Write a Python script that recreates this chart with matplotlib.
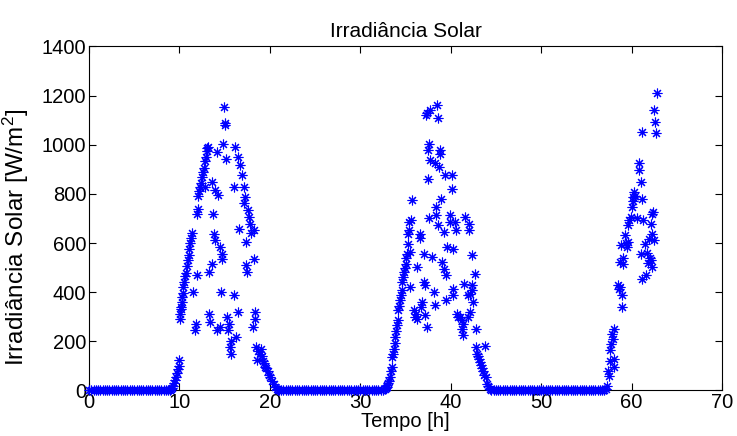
import matplotlib

matplotlib.use("Agg")
import matplotlib.pyplot as plt

plt.rcParams["font.family"] = ["Liberation Sans", "DejaVu Sans"]
plt.rcParams["mathtext.fontset"] = "custom"
plt.rcParams["mathtext.rm"] = "Liberation Sans"
plt.rcParams["mathtext.it"] = "Liberation Sans:italic"

# (hora, irradiancia W/m2)
night1 = [
    (0.0, 0), (0.25, 0), (0.5, 0), (0.75, 0), (1.0, 0), (1.25, 0), (1.5, 0), (1.75, 0),
    (2.0, 0), (2.25, 0), (2.5, 0), (2.75, 0), (3.0, 0), (3.25, 0), (3.5, 0), (3.75, 0),
    (4.0, 0), (4.25, 0), (4.5, 0), (4.75, 0), (5.0, 0), (5.25, 0), (5.5, 0), (5.75, 0),
    (6.0, 0), (6.25, 0), (6.5, 0), (6.75, 0), (7.0, 0), (7.25, 0), (7.5, 0), (7.75, 0),
    (8.0, 0), (8.25, 0), (8.5, 0), (8.75, 0), (9.0, 0),
]
day1 = [
    (9.1, 5), (9.2, 12), (9.3, 20), (9.4, 30), (9.5, 42), (9.6, 55), (9.7, 70), (9.8, 88),
    (9.9, 100), (10.0, 125), (10.05, 290), (10.1, 310), (10.15, 340), (10.2, 330),
    (10.25, 360), (10.3, 380), (10.35, 395), (10.4, 420), (10.5, 440), (10.6, 465),
    (10.7, 480), (10.8, 505), (10.9, 530), (11.0, 550), (11.1, 575), (11.2, 600),
    (11.3, 620), (11.4, 640), (11.5, 400), (11.7, 245), (11.8, 272), (11.9, 469),
    (11.95, 720), (12.0, 740), (12.1, 790), (12.2, 810), (12.3, 830), (12.4, 845),
    (12.5, 870), (12.6, 890), (12.7, 905), (12.8, 935), (12.85, 830), (12.9, 950),
    (13.0, 975), (13.1, 985), (13.2, 990), (13.25, 482), (13.3, 313), (13.35, 280),
    (13.6, 516), (13.65, 849), (13.75, 720), (13.8, 638), (13.9, 611), (13.95, 815),
    (14.1, 971), (14.15, 245), (14.3, 795), (14.45, 260), (14.5, 584), (14.55, 400),
    (14.7, 557), (14.75, 537), (14.85, 1005), (14.9, 1152), (15.0, 1087), (15.05, 1080),
    (15.2, 944), (15.25, 299), (15.4, 245), (15.5, 270), (15.6, 176), (15.7, 150),
    (15.75, 200), (16.0, 829), (16.05, 387), (16.15, 991), (16.3, 217), (16.45, 319),
    (16.5, 951), (16.55, 659), (16.7, 917), (16.9, 876), (17.1, 829), (17.15, 761),
    (17.3, 788), (17.35, 509), (17.4, 604), (17.45, 482), (17.6, 733), (17.7, 707),
    (17.8, 679), (17.9, 640), (18.1, 260), (18.2, 652), (18.25, 537), (18.3, 318),
    (18.35, 290), (18.5, 176), (18.6, 126), (18.7, 160), (18.9, 150), (19.0, 170),
    (19.1, 140), (19.2, 120), (19.3, 110), (19.5, 95), (19.6, 90), (19.8, 80),
    (19.9, 65), (20.0, 54), (20.2, 40), (20.4, 27), (20.6, 15), (20.8, 8), (20.9, 3),
]
night2 = [
    (21.0, 0), (21.25, 0), (21.5, 0), (21.75, 0), (22.0, 0), (22.25, 0), (22.5, 0), (22.75, 0),
    (23.0, 0), (23.25, 0), (23.5, 0), (23.75, 0), (24.0, 0), (24.25, 0), (24.5, 0), (24.75, 0),
    (25.0, 0), (25.25, 0), (25.5, 0), (25.75, 0), (26.0, 0), (26.25, 0), (26.5, 0), (26.75, 0),
    (27.0, 0), (27.25, 0), (27.5, 0), (27.75, 0), (28.0, 0), (28.25, 0), (28.5, 0), (28.75, 0),
    (29.0, 0), (29.25, 0), (29.5, 0), (29.75, 0), (30.0, 0), (30.25, 0), (30.5, 0), (30.75, 0),
    (31.0, 0), (31.25, 0), (31.5, 0), (31.75, 0), (32.0, 0), (32.25, 0), (32.5, 0),
]
day2 = [
    (32.7, 5), (32.8, 10), (32.9, 15), (33.0, 22), (33.1, 30), (33.2, 40), (33.3, 55),
    (33.4, 81), (33.5, 136), (33.55, 95), (33.6, 150), (33.7, 170), (33.8, 195),
    (33.85, 217), (33.95, 244), (34.05, 265), (34.15, 285), (34.2, 326), (34.3, 345),
    (34.4, 367), (34.5, 390), (34.6, 407), (34.65, 441), (34.75, 460), (34.8, 482),
    (34.9, 500), (35.0, 516), (35.1, 540), (35.2, 557), (35.25, 598), (35.3, 638),
    (35.35, 652), (35.4, 686), (35.45, 421), (35.5, 564), (35.6, 693), (35.7, 774),
    (35.9, 326), (36.1, 299), (36.2, 310), (36.25, 502), (36.3, 290), (36.6, 638),
    (36.65, 620), (36.7, 340), (36.8, 360), (37.0, 557), (37.05, 441), (37.15, 430),
    (37.2, 306), (37.25, 1120), (37.35, 1128), (37.4, 258), (37.45, 859), (37.5, 978),
    (37.55, 700), (37.65, 1005), (37.7, 1141), (37.75, 937), (37.9, 543), (38.1, 400),
    (38.25, 924), (38.3, 346), (38.35, 747), (38.4, 713), (38.5, 1161), (38.55, 672),
    (38.6, 1107), (38.65, 910), (38.8, 978), (38.85, 964), (38.9, 781), (39.0, 523),
    (39.2, 645), (39.25, 496), (39.4, 876), (39.45, 367), (39.5, 469), (39.6, 584),
    (39.9, 713), (39.95, 686), (40.1, 876), (40.15, 822), (40.2, 577), (40.25, 387),
    (40.3, 414), (40.5, 686), (40.55, 652), (40.7, 312), (40.8, 299), (41.0, 300),
    (41.2, 285), (41.25, 251), (41.3, 224), (41.4, 272), (41.45, 435), (41.6, 706),
    (41.9, 387), (41.95, 299), (42.0, 679), (42.05, 652), (42.1, 394), (42.15, 319),
    (42.3, 550), (42.35, 428), (42.4, 407), (42.5, 360), (42.7, 476), (42.75, 251),
    (42.8, 176), (42.9, 149), (43.0, 140), (43.1, 129), (43.2, 115), (43.4, 102),
    (43.5, 90), (43.6, 81), (43.7, 65), (43.8, 183), (43.85, 54), (44.0, 27),
    (44.1, 18), (44.3, 8), (44.5, 3),
]
night3 = [
    (44.75, 0), (45.0, 0), (45.25, 0), (45.5, 0), (45.75, 0), (46.0, 0), (46.25, 0), (46.5, 0),
    (46.75, 0), (47.0, 0), (47.25, 0), (47.5, 0), (47.75, 0), (48.0, 0), (48.25, 0), (48.5, 0),
    (48.75, 0), (49.0, 0), (49.25, 0), (49.5, 0), (49.75, 0), (50.0, 0), (50.25, 0), (50.5, 0),
    (50.75, 0), (51.0, 0), (51.25, 0), (51.5, 0), (51.75, 0), (52.0, 0), (52.25, 0), (52.5, 0),
    (52.75, 0), (53.0, 0), (53.25, 0), (53.5, 0), (53.75, 0), (54.0, 0), (54.25, 0), (54.5, 0),
    (54.75, 0), (55.0, 0), (55.25, 0), (55.5, 0), (55.75, 0), (56.0, 0), (56.25, 0), (56.5, 0),
    (56.75, 0), (57.0, 0),
]
day3 = [
    (57.2, 5), (57.3, 20), (57.4, 81), (57.5, 60), (57.6, 122), (57.65, 163), (57.75, 190),
    (57.8, 231), (57.9, 211), (58.0, 251), (58.05, 129), (58.1, 95), (58.5, 428),
    (58.6, 415), (58.7, 420), (58.75, 523), (58.8, 591), (58.9, 387), (58.95, 340),
    (59.0, 516), (59.1, 540), (59.3, 632), (59.4, 600), (59.5, 584), (59.6, 604),
    (59.65, 672), (59.75, 693), (59.9, 706), (60.0, 747), (60.1, 770), (60.2, 788),
    (60.25, 808), (60.35, 790), (60.6, 700), (60.8, 924), (60.85, 896), (61.0, 849),
    (61.05, 557), (61.1, 455), (61.15, 1053), (61.2, 781), (61.3, 693), (61.5, 597),
    (61.55, 469), (61.7, 560), (61.8, 520), (61.9, 618), (62.0, 540), (62.1, 679),
    (62.15, 530), (62.2, 638), (62.25, 502), (62.3, 720), (62.4, 727), (62.45, 1141),
    (62.5, 611), (62.6, 1093), (62.65, 1046), (62.8, 1209),
]

segments = [night1, day1, night2, day2, night3, day3]
hours = [h for seg in segments for h, _ in seg]
irradiance = [w for seg in segments for _, w in seg]

x_ticks = list(range(0, 71, 10))
y_ticks = list(range(0, 1401, 200))

fig = plt.figure(figsize=(7.37, 4.36), dpi=100)
ax = fig.add_axes([0.1208, 0.1044, 0.8589, 0.7890])
ax.plot(hours, irradiance, linestyle="none", marker=(8, 2, 0),
        markersize=7, markeredgewidth=0.8, color="b", clip_on=False, zorder=3)

ax.set_xlim(0, 70)
ax.set_ylim(0, 1400)
ax.set_xticks(x_ticks)
ax.set_yticks(y_ticks)
ax.tick_params(direction="in", top=True, right=True, length=5, width=0.8,
               labelsize=14.5, pad=2)
for spine in ax.spines.values():
    spine.set_linewidth(0.8)

ax.set_title("Irradiância Solar", fontsize=15, pad=7)
ax.set_xlabel("Tempo [h]", fontsize=14.5, labelpad=0)
ax.set_ylabel("Irradiância Solar [W/m$^2$]", fontsize=17.5)
ax.yaxis.set_label_coords(-0.092, 0.446)

fig.savefig("out.png", dpi=100)
